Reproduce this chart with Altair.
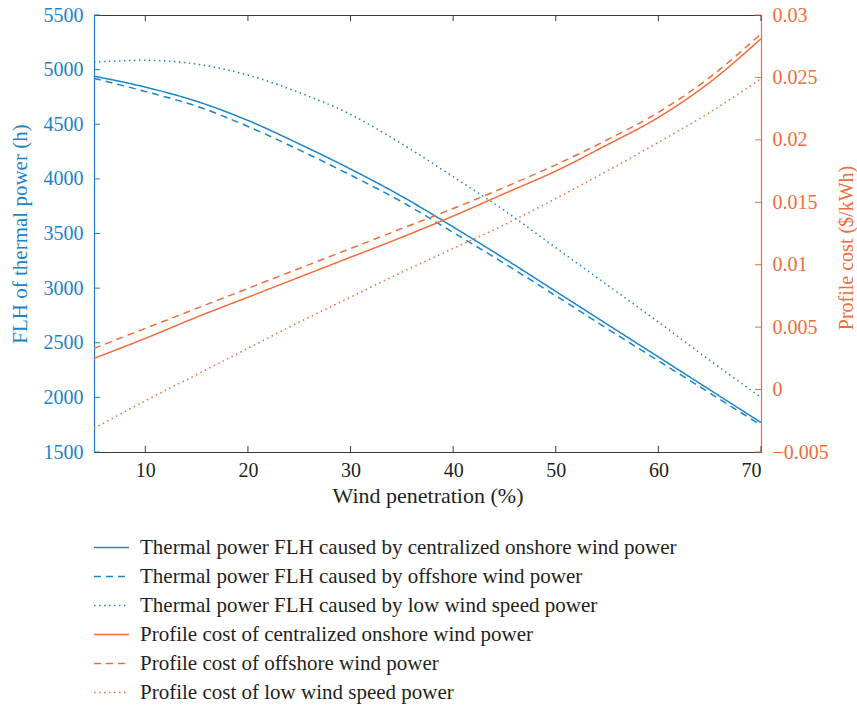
import altair as alt
import pandas as pd

# ---------------- data ----------------
wind = [5, 10, 15, 20, 25, 30, 35, 40, 45, 50, 55, 60, 65, 70]

flh_onshore = [4940, 4840, 4710, 4535, 4320, 4090, 3840, 3560, 3270, 2970, 2670, 2370, 2070, 1770]
flh_offshore = [4920, 4800, 4665, 4480, 4265, 4035, 3790, 3510, 3225, 2930, 2630, 2335, 2040, 1745]
flh_lowwind = [5070, 5085, 5050, 4950, 4790, 4590, 4320, 4020, 3710, 3370, 3030, 2690, 2340, 2000]

cost_onshore = [0.0025, 0.0041, 0.0058, 0.0074, 0.0090, 0.0106, 0.0122, 0.0139, 0.0157, 0.0175, 0.0196, 0.0218, 0.0246, 0.0281]
cost_offshore = [0.0033, 0.0049, 0.0065, 0.0081, 0.0097, 0.0113, 0.0129, 0.0145, 0.0162, 0.0180, 0.0200, 0.0222, 0.0250, 0.0285]
cost_lowwind = [-0.0031, -0.0009, 0.0012, 0.0033, 0.0054, 0.0074, 0.0094, 0.0113, 0.0132, 0.0153, 0.0175, 0.0198, 0.0222, 0.0249]

series_names = [
    "Thermal power FLH caused by centralized onshore wind power",
    "Thermal power FLH caused by offshore wind power",
    "Thermal power FLH caused by low wind speed power",
    "Profile cost of centralized onshore wind power",
    "Profile cost of offshore wind power",
    "Profile cost of low wind speed power",
]

x_ticks = [10, 20, 30, 40, 50, 60, 70]
left_ticks = [1500, 2000, 2500, 3000, 3500, 4000, 4500, 5000, 5500]
right_ticks = [-0.005, 0, 0.005, 0.01, 0.015, 0.02, 0.025, 0.03]

# ---------------- styling ----------------
BLUE = "#1984c8"
ORANGE = "#f26b3a"
DARK = "#231f20"
FONT = "Liberation Serif"
W, H = 667, 437
TICK = 6

series_colors = [BLUE, BLUE, BLUE, ORANGE, ORANGE, ORANGE]
series_dashes = [[1, 0], [7, 5], [1.5, 3.5], [1, 0], [7, 5], [1.5, 3.5]]

left_rows = []
for name, vals in zip(series_names[:3], [flh_onshore, flh_offshore, flh_lowwind]):
    for xv, yv in zip(wind, vals):
        left_rows.append({"wind": xv, "value": yv, "series": name})
right_rows = []
for name, vals in zip(series_names[3:], [cost_onshore, cost_offshore, cost_lowwind]):
    for xv, yv in zip(wind, vals):
        right_rows.append({"wind": xv, "value": yv, "series": name})

df_left = pd.DataFrame(left_rows)
df_right = pd.DataFrame(right_rows)
df_xt = pd.DataFrame({"wind": x_ticks})
df_lt = pd.DataFrame({"value": left_ticks})
df_rt = pd.DataFrame({"value": right_ticks})

x_scale = alt.Scale(domain=[5, 70], nice=False, zero=False)
y_left_scale = alt.Scale(domain=[1500, 5500], nice=False, zero=False)
y_right_scale = alt.Scale(domain=[-0.005, 0.03], nice=False, zero=False)

legend = alt.Legend(title=None)
color_enc = alt.Color("series:N", scale=alt.Scale(domain=series_names, range=series_colors), legend=legend)
dash_enc = alt.StrokeDash("series:N", scale=alt.Scale(domain=series_names, range=series_dashes), legend=legend)

x_axis = alt.Axis(
    values=x_ticks, title="Wind penetration (%)", ticks=False, tickSize=0, grid=False,
    labelColor=DARK, titleColor=DARK, domainColor="#3a3a3a", labelPadding=8,
    labelFontSize=20, titleFontSize=22, titleFontWeight="normal",
    titleY=43, titleBaseline="middle",
)
y_left_axis = alt.Axis(
    values=left_ticks, format="d", title="FLH of thermal power (h)", ticks=False, tickSize=0,
    grid=False, labelColor=BLUE, titleColor=BLUE, domainColor=BLUE, domainWidth=1.2,
    labelPadding=11, labelFontSize=20, titleFontSize=21, titleFontWeight="normal",
    titleAngle=270, titleBaseline="middle", titleAlign="center", titleX=-74, titleY=H / 2,
)
y_right_axis = alt.Axis(
    orient="right", values=right_ticks, format="~g", title="Profile cost ($/kWh)",
    ticks=False, tickSize=0, grid=False, labelColor=ORANGE, titleColor=ORANGE,
    domainColor=ORANGE, domainWidth=1.2, labelPadding=11, labelFontSize=20,
    titleFontSize=20, titleFontWeight="normal", titleAngle=270, titleBaseline="middle",
    titleAlign="center", titleX=85, titleY=H / 2 + 14,
)

X = alt.X("wind:Q", scale=x_scale, axis=x_axis)
YL = alt.Y("value:Q", scale=y_left_scale, axis=y_left_axis)
YR = alt.Y("value:Q", scale=y_right_scale, axis=y_right_axis)

left_lines = alt.Chart(df_left).mark_line(strokeWidth=1.5, interpolate="monotone").encode(
    x=X, y=YL, color=color_enc, strokeDash=dash_enc,
)
left_tick_marks = alt.Chart(df_lt).mark_rule(color=BLUE, strokeWidth=1).encode(
    y=YL, x=alt.value(0), x2=alt.value(TICK),
)
bottom_ticks = alt.Chart(df_xt).mark_rule(color="#3a3a3a", strokeWidth=1).encode(
    x=X, y=alt.value(H - TICK), y2=alt.value(H),
)
top_ticks = alt.Chart(df_xt).mark_rule(color="#3a3a3a", strokeWidth=1).encode(
    x=X, y=alt.value(0), y2=alt.value(TICK),
)

right_lines = alt.Chart(df_right).mark_line(strokeWidth=1.5, interpolate="monotone").encode(
    x=X, y=YR, color=color_enc, strokeDash=dash_enc,
)
right_tick_marks = alt.Chart(df_rt).mark_rule(color=ORANGE, strokeWidth=1).encode(
    y=YR, x=alt.value(W - TICK), x2=alt.value(W),
)

left_group = alt.layer(left_lines, left_tick_marks, bottom_ticks, top_ticks)
right_group = alt.layer(right_lines, right_tick_marks)

chart = alt.layer(left_group, right_group).resolve_scale(y="independent").properties(
    width=W, height=H,
    autosize=alt.AutoSizeParams(type="none"),
    padding={"left": 94, "top": 15, "right": 96, "bottom": 253},
).configure(
    font=FONT,
).configure_view(
    stroke="#3a3a3a", strokeWidth=1,
).configure_axis(
    labelFont=FONT, titleFont=FONT,
).configure_legend(
    orient="none", legendX=-1, legendY=514, padding=0,
    labelFont=FONT, labelFontSize=21, labelColor=DARK, labelLimit=0,
    symbolType="stroke", symbolSize=1225, symbolStrokeWidth=1.5,
    labelOffset=10, rowPadding=0,
)

chart.save("out.html", embed_options={"renderer": "svg", "actions": False})
